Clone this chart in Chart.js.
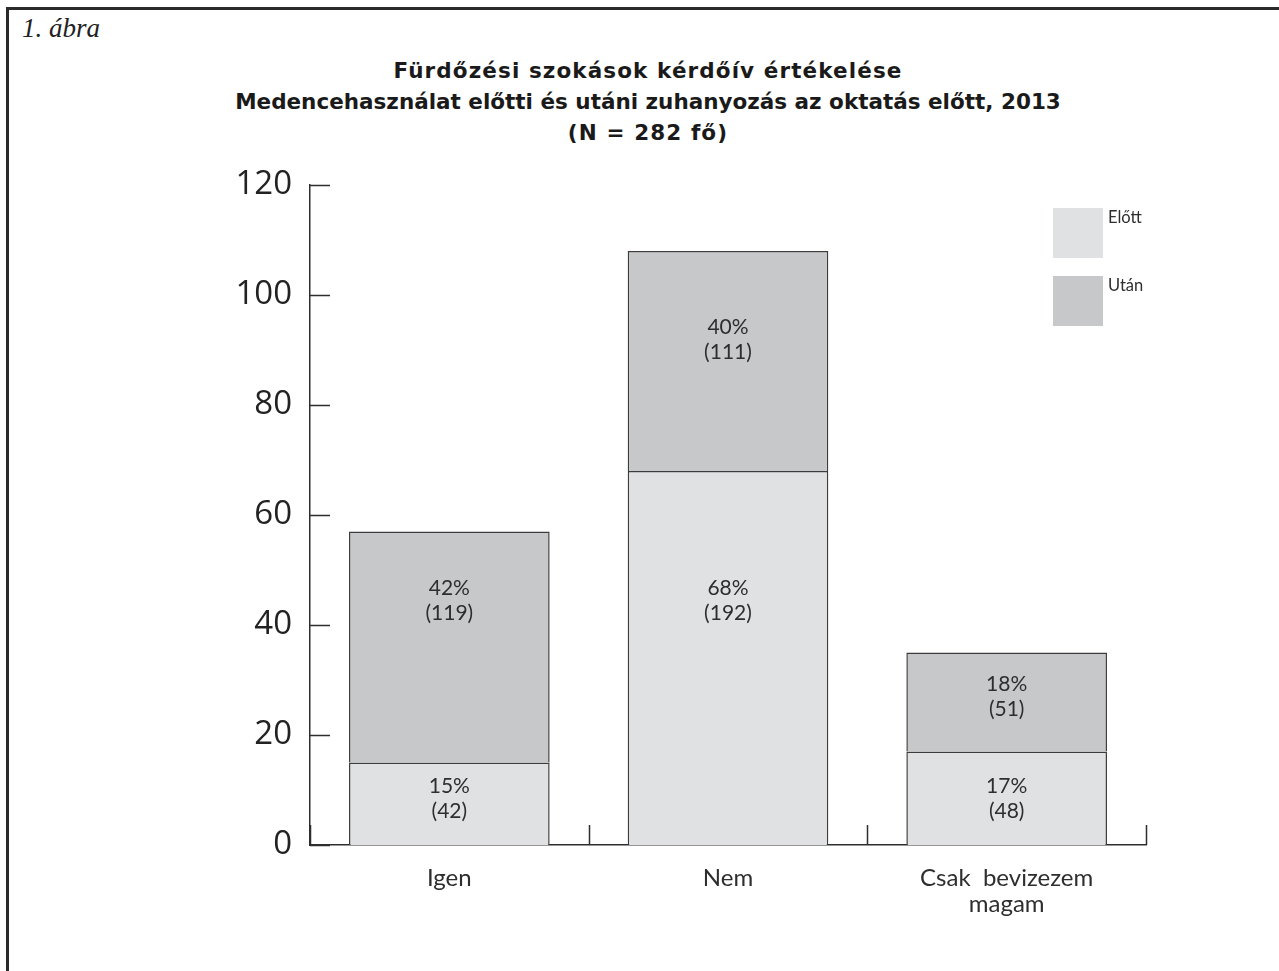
<!DOCTYPE html>
<html lang="hu">

<head>
    <meta charset="UTF-8">
    <title>Fürdőzési szokások</title>
    <style>
        body { margin: 0; background: #fff; width: 1279px; height: 971px; overflow: hidden; position: relative; }
        .frame { position: absolute; left: 6px; top: 7px; width: 1300px; height: 1000px; border-left: 3px solid #2b2b2b; border-top: 3px solid #2b2b2b; }
        .abra { position: absolute; left: 22px; top: 13px; font: italic 27px "Liberation Serif", serif; color: #222; }
        .title { position: absolute; left: 98px; width: 1100px; top: 55px; text-align: center; font: bold 21.5px "DejaVu Sans", sans-serif; line-height: 31px; color: #1a1a1a; }
        .title span { display: block; }
        .title .l1 { letter-spacing: 1.1px; }
        #wrap { position: absolute; left: 0; top: 0; width: 1279px; height: 971px; }
    </style>
</head>

<body>
    <div class="frame"></div>
    <div class="abra">1. ábra</div>
    <div class="title"><span class="l1">Fürdőzési szokások kérdőív értékelése</span><span>Medencehasználat előtti és utáni zuhanyozás az oktatás előtt, 2013</span><span class="l1">(N = 282 fő)</span></div>
    <div id="wrap">
        <canvas id="myChart" width="1279" height="971"></canvas>
    </div>
    <script src="https://cdn.jsdelivr.net/npm/chart.js"></script>
    <script>
        const categories = [["Igen"], ["Nem"], ["Csak  bevizezem", "magam"]];
        const seriesNames = ["Előtt", "Után"];
        // bar heights are the percentages
        const elottPct = [15, 68, 17];
        const utanPct = [42, 40, 18];
        const elottCount = [42, 192, 48];
        const utanCount = [119, 111, 51];
        const yTicks = [0, 20, 40, 60, 80, 100, 120];

        // where the text sits, in value units
        const labelAt = [[8.5, 44.5, 8.5], [44.5, 92, 27]];

        const colors = ["#e0e1e3", "#c7c8ca"];
        const ink = "#2e2e2e";

        const ctx = document.getElementById('myChart');

        // inward ticks on both axes
        const innerTicks = {
            id: 'innerTicks',
            afterDraw(chart) {
                const c = chart.ctx;
                const y = chart.scales.y;
                const a = chart.chartArea;
                c.save();
                c.strokeStyle = ink;
                c.lineWidth = 1.5;
                c.beginPath();
                yTicks.forEach(v => {
                    const py = Math.round(y.getPixelForValue(v)) + 0.5;
                    c.moveTo(a.left, py);
                    c.lineTo(a.left + 20, py);
                });
                const w = (a.right - a.left) / categories.length;
                for (let k = 0; k <= categories.length; k++) {
                    const px = Math.round(a.left + w * k) + 0.5;
                    c.moveTo(px, a.bottom);
                    c.lineTo(px, a.bottom - 20);
                }
                c.stroke();
                c.restore();
            }
        };

        const barLabels = {
            id: 'barLabels',
            afterDatasetsDraw(chart) {
                const c = chart.ctx;
                const y = chart.scales.y;
                const pcts = [elottPct, utanPct];
                const counts = [elottCount, utanCount];
                c.save();
                c.fillStyle = ink;
                c.font = '21px Lato, sans-serif';
                c.textAlign = 'center';
                c.textBaseline = 'middle';
                chart.data.datasets.forEach((ds, di) => {
                    chart.getDatasetMeta(di).data.forEach((bar, i) => {
                        const cy = y.getPixelForValue(labelAt[di][i]);
                        c.fillText(pcts[di][i] + '%', bar.x, cy - 12);
                        c.fillText('(' + counts[di][i] + ')', bar.x, cy + 13);
                    });
                });
                c.restore();
            }
        };

        const sideLegend = {
            id: 'sideLegend',
            afterDraw(chart) {
                const c = chart.ctx;
                const a = chart.chartArea;
                c.save();
                c.font = '16.5px Lato, sans-serif';
                c.textBaseline = 'top';
                seriesNames.forEach((name, i) => {
                    const top = a.top + 23 + i * 68;
                    const left = a.right - 93;
                    c.fillStyle = colors[i];
                    c.fillRect(left, top, 50, 50);
                    c.fillStyle = ink;
                    c.fillText(name, left + 55, top + 1);
                });
                c.restore();
            }
        };

        new Chart(ctx, {
            type: 'bar',
            data: {
                labels: categories,
                datasets: [{
                    label: seriesNames[0],
                    data: elottPct,
                    backgroundColor: colors[0],
                    borderColor: '#3c3c3c',
                    borderWidth: 1.5
                }, {
                    label: seriesNames[1],
                    data: utanPct,
                    backgroundColor: colors[1],
                    borderColor: '#3c3c3c',
                    borderWidth: 1.5
                }]
            },
            options: {
                responsive: false,
                animation: false,
                layout: {
                    padding: { left: 0, top: 185, right: 133, bottom: 46 }
                },
                barPercentage: 0.72,
                categoryPercentage: 1,
                scales: {
                    x: {
                        stacked: true,
                        grid: { display: false, drawTicks: false },
                        border: { display: true, color: ink, width: 1.5 },
                        ticks: {
                            color: ink,
                            font: { family: 'Lato', size: 24, lineHeight: 1.08 },
                            padding: 20,
                            maxRotation: 0
                        },
                        afterFit(s) { s.height = 80; }
                    },
                    y: {
                        stacked: true,
                        min: 0,
                        max: 120,
                        grid: { display: false, drawTicks: false },
                        border: { display: true, color: ink, width: 1.5 },
                        afterBuildTicks(s) { s.ticks = yTicks.map(v => ({ value: v })); },
                        ticks: {
                            color: '#222',
                            font: { family: 'Open Sans', size: 33 },
                            padding: 18
                        },
                        afterFit(s) { s.width = 310; }
                    }
                },
                plugins: {
                    legend: { display: false },
                    tooltip: { enabled: false }
                }
            },
            plugins: [innerTicks, barLabels, sideLegend]
        });
    </script>
</body>

</html>
